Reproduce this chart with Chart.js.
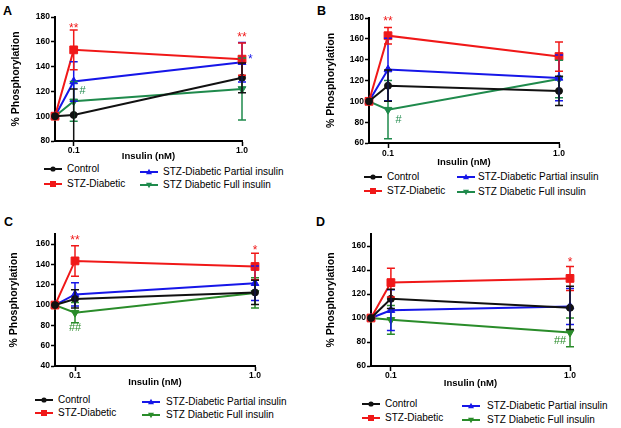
<!DOCTYPE html>
<html>
<head>
<meta charset="utf-8">
<script src="https://cdn.jsdelivr.net/npm/chart.js@4.4.0/dist/chart.umd.min.js"></script>
<style>
  body { margin: 0; background: #fff; width: 621px; height: 428px; position: relative; overflow: hidden; font-family: "Liberation Sans", Arial, sans-serif; }
  canvas { position: absolute; }
  .letter { position: absolute; font-weight: bold; font-size: 12.5px; line-height: 13px; }
  .lg { position: absolute; font-size: 10px; line-height: 12px; white-space: nowrap; display: flex; align-items: center; }
  .lg svg { display: block; }
</style>
</head>
<body>
<div class="letter" style="left:3px;top:5px">A</div>
<div class="letter" style="left:317px;top:5px">B</div>
<div class="letter" style="left:4px;top:216px">C</div>
<div class="letter" style="left:316px;top:216px">D</div>
<canvas id="chartA" width="310" height="162" style="left:0;top:0"></canvas>
<canvas id="chartB" width="311" height="168" style="left:310px;top:0"></canvas>
<canvas id="chartC" width="310" height="178" style="left:0;top:210px"></canvas>
<canvas id="chartD" width="311" height="179" style="left:310px;top:210px"></canvas>
<script>
// Dữ liệu -------------------------------------------------------------
// liều insulin (nM), trục x
const doses = [0, 0.1, 1.0];
const xTicks = [0.1, 1.0];
const seriesNames = ['Control', 'STZ-Diabetic', 'STZ-Diabetic Partial insulin', 'STZ Diabetic Full insulin'];

// Panel A
const aControl = [100, 101, 131];   const aControlErr = [0, 21, 12];
const aStz = [100, 153.5, 146];     const aStzErr = [0, 16, 13];
const aPartial = [100, 128, 143.5]; const aPartialErr = [0, 16, 16];
const aFull = [100, 112, 122];      const aFullErr = [0, 16, 25];
const aYTicks = [80, 100, 120, 140, 160, 180];

// Panel B
const bControl = [100, 115, 110];     const bControlErr = [0, 15, 14];
const bStz = [100, 163, 143];         const bStzErr = [0, 8, 14];
const bPartial = [100, 130.5, 122.5]; const bPartialErr = [0, 30, 22];
const bFull = [100, 92, 121.5];       const bFullErr = [0, 28, 18];
const bYTicks = [60, 80, 100, 120, 140, 160, 180];

// Panel C
const cControl = [100, 106, 112.5];   const cControlErr = [0, 9, 12];
const cStz = [100, 143.5, 138];       const cStzErr = [0, 15, 13];
const cPartial = [100, 110.5, 121.5]; const cPartialErr = [0, 11.5, 17];
const cFull = [100, 92.5, 112];       const cFullErr = [0, 10, 15];
const cYTicks = [40, 60, 80, 100, 120, 140, 160];

// Panel D
const dControl = [100, 116, 108.5];   const dControlErr = [0, 8, 18];
const dStz = [100, 129.5, 133];       const dStzErr = [0, 12, 10];
const dPartial = [100, 106.5, 109.5]; const dPartialErr = [0, 17, 15];
const dFull = [100, 98.5, 88];        const dFullErr = [0, 12, 12];
const dYTicks = [60, 80, 100, 120, 140, 160];

// ký hiệu thống kê: [chữ, x, y, series]
const aSig = [['**', 0.1, 173, 1], ['**', 1.0, 166, 1], ['*', 1.045, 148, 2], ['#', 0.148, 120, 3]];
const bSig = [['**', 0.1, 179, 1], ['#', 0.155, 82, 3]];
const cSig = [['**', 0.1, 166, 1], ['*', 1.0, 157, 1], ['##', 0.1, 77, 3]];
const dSig = [['*', 1.0, 149, 1], ['##', 0.95, 81, 3]];

// Kiểu dáng -----------------------------------------------------------
const BLACK = '#111111', RED = '#f01818', BLUE = '#1616e8';
const GREEN_AB = '#1f8a4c', GREEN_CD = '#2a8c2a';
const pointStyles = ['circle', 'rect', 'triangle', 'triangle'];
const pointRadius = [3.5, 5.5, 4.5, 4.5];
const pointRot = [0, 0, 0, 180];

Chart.defaults.font.family = '"Liberation Sans", Arial, sans-serif';
Chart.defaults.color = '#000';

// vẽ thanh sai số và dấu * / #
const overlayPlugin = {
  id: 'overlay',
  afterDatasetsDraw(chart) {
    const ctx = chart.ctx;
    const xs = chart.scales.x, ys = chart.scales.y;
    const sets = chart.data.datasets;
    for (let d = sets.length - 1; d >= 0; d--) {
      const ds = sets[d];
      ctx.save();
      ctx.strokeStyle = ds.borderColor;
      ctx.lineWidth = 1.5;
      ds.data.forEach((p, i) => {
        const e = ds.err[i];
        if (!e) return;
        const x = xs.getPixelForValue(p.x);
        const y1 = ys.getPixelForValue(p.y - e);
        const y2 = ys.getPixelForValue(p.y + e);
        ctx.beginPath();
        ctx.moveTo(x, y1); ctx.lineTo(x, y2);
        ctx.moveTo(x - 4, y1); ctx.lineTo(x + 4, y1);
        ctx.moveTo(x - 4, y2); ctx.lineTo(x + 4, y2);
        ctx.stroke();
      });
      ctx.restore();
    }
    const sig = chart.$sig || [];
    ctx.save();
    ctx.textAlign = 'center';
    ctx.textBaseline = 'middle';
    sig.forEach(([txt, x, y, s]) => {
      const star = txt.indexOf('*') >= 0;
      ctx.font = (star ? '12px' : '11px') + ' "Liberation Sans", Arial, sans-serif';
      ctx.fillStyle = sets[s].borderColor;
      ctx.fillText(txt, xs.getPixelForValue(x), ys.getPixelForValue(y) + (star ? 3 : 0));
    });
    ctx.restore();
  }
};

function makeSet(i, vals, errs, color) {
  return {
    label: seriesNames[i],
    data: doses.map((x, k) => ({ x: x, y: vals[k] })),
    err: errs,
    borderColor: color,
    backgroundColor: color,
    borderWidth: 2,
    pointStyle: pointStyles[i],
    pointRadius: pointRadius[i],
    pointRotation: pointRot[i],
    pointBorderWidth: 1,
    tension: 0,
    clip: false
  };
}

function makeChart(id, sets, yMin, yMax, yTicks, sig, lay) {
  const chart = new Chart(document.getElementById(id), {
    type: 'line',
    data: { datasets: sets },
    options: {
      responsive: false,
      animation: false,
      devicePixelRatio: 1,
      layout: { padding: { top: lay.top, right: lay.right, left: 0, bottom: 0 } },
      plugins: { legend: { display: false }, tooltip: { enabled: false } },
      scales: {
        x: {
          type: 'linear', min: 0, max: 1,
          afterBuildTicks: s => { s.ticks = xTicks.map(v => ({ value: v })); },
          afterFit: s => { s.height = lay.xh; },
          ticks: { font: { size: 8.5, weight: 'bold' }, padding: lay.xpad, maxRotation: 0, callback: v => v.toFixed(1) },
          grid: { drawOnChartArea: false, drawTicks: true, tickLength: 5, tickColor: '#000', tickWidth: 1.5 },
          border: { display: true, color: '#000', width: 2 },
          title: { display: true, text: 'Insulin (nM)', font: { size: 9.5, weight: 'bold' }, padding: 0 }
        },
        y: {
          min: yMin, max: yMax,
          afterBuildTicks: s => { s.ticks = yTicks.map(v => ({ value: v })); },
          afterFit: s => { s.width = lay.yw; },
          ticks: { font: { size: 8.5, weight: 'bold' }, padding: 1 },
          grid: { drawOnChartArea: false, drawTicks: true, tickLength: 4, tickColor: '#000', tickWidth: 1.5 },
          border: { display: true, color: '#000', width: 2 },
          title: { display: true, text: '% Phosphorylation', font: { size: 10.5, weight: 'bold' }, padding: { top: lay.tpad, bottom: 0 } }
        }
      }
    },
    plugins: [overlayPlugin]
  });
  chart.$sig = sig;
  chart.draw();
  return chart;
}

makeChart('chartA', [
  makeSet(0, aControl, aControlErr, BLACK),
  makeSet(1, aStz, aStzErr, RED),
  makeSet(2, aPartial, aPartialErr, BLUE),
  makeSet(3, aFull, aFullErr, GREEN_AB)
], 80, 180, aYTicks, aSig, { top: 17, right: 68, yw: 55, tpad: 10, xh: 21, xpad: 0 });

makeChart('chartB', [
  makeSet(0, bControl, bControlErr, BLACK),
  makeSet(1, bStz, bStzErr, RED),
  makeSet(2, bPartial, bPartialErr, BLUE),
  makeSet(3, bFull, bFullErr, GREEN_AB)
], 60, 180, bYTicks, bSig, { top: 18, right: 62, yw: 59, tpad: 15, xh: 25, xpad: 1 });

makeChart('chartC', [
  makeSet(0, cControl, cControlErr, BLACK),
  makeSet(1, cStz, cStzErr, RED),
  makeSet(2, cPartial, cPartialErr, BLUE),
  makeSet(3, cFull, cFullErr, GREEN_CD)
], 40, 170, cYTicks, cSig, { top: 24, right: 55, yw: 55, tpad: 8, xh: 22, xpad: 0 });

makeChart('chartD', [
  makeSet(0, dControl, dControlErr, BLACK),
  makeSet(1, dStz, dStzErr, RED),
  makeSet(2, dPartial, dPartialErr, BLUE),
  makeSet(3, dFull, dFullErr, GREEN_CD)
], 60, 170, dYTicks, dSig, { top: 24, right: 51, yw: 61, tpad: 15, xh: 23, xpad: 0 });

// Chú thích (legend) bằng HTML -----------------------------------------
function markerSvg(i, color) {
  let m = '';
  if (i === 0) m = `<circle cx="9" cy="4" r="2.6" fill="${color}"/>`;
  if (i === 1) m = `<rect x="6" y="1" width="6" height="6" fill="${color}"/>`;
  if (i === 2) m = `<polygon points="9,0.8 12,6.2 6,6.2" fill="${color}"/>`;
  if (i === 3) m = `<polygon points="9,7.2 12,1.8 6,1.8" fill="${color}"/>`;
  return `<svg width="18" height="8"><line x1="0" y1="4" x2="18" y2="4" stroke="${color}" stroke-width="2"/>${m}</svg>`;
}
function addLegend(colors, items) {
  // items: [series, lineX, y, gap]
  items.forEach(([i, x, y, gap]) => {
    const div = document.createElement('div');
    div.className = 'lg';
    div.style.left = x + 'px';
    div.style.top = (y - 6) + 'px';
    div.innerHTML = markerSvg(i, colors[i]) + `<span style="margin-left:${gap}px">${seriesNames[i]}</span>`;
    document.body.appendChild(div);
  });
}
addLegend([BLACK, RED, BLUE, GREEN_AB], [[0, 44, 169, 5], [1, 44, 184, 5], [2, 140, 172, 5], [3, 140, 184.5, 5]]);
addLegend([BLACK, RED, BLUE, GREEN_AB], [[0, 364, 177, 5], [1, 364, 191, 5], [2, 457, 177, 3], [3, 457, 192, 3]]);
addLegend([BLACK, RED, BLUE, GREEN_CD], [[0, 35, 399.5, 5], [1, 35, 413, 5], [2, 142, 402, 6], [3, 142, 414.5, 6]]);
addLegend([BLACK, RED, BLUE, GREEN_CD], [[0, 362, 404, 5], [1, 362, 417.5, 5], [2, 462, 405.5, 7], [3, 462, 419.5, 7]]);
</script>
</body>
</html>
